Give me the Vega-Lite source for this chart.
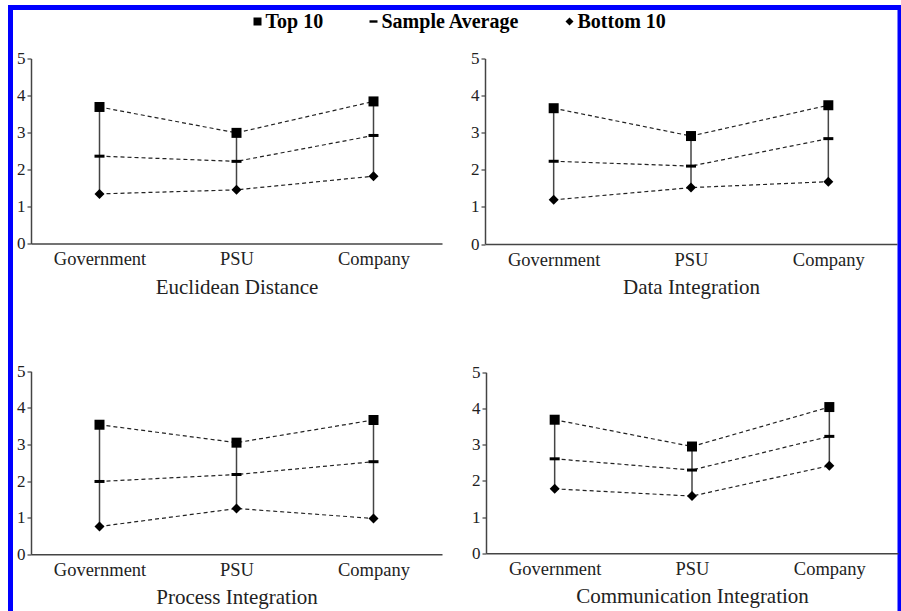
{
  "$schema": "https://vega.github.io/schema/vega-lite/v6.json",
  "width": 889.5,
  "height": 606,
  "autosize": {"type": "none"},
  "padding": {"left": 10.5, "top": 7.5, "right": 1, "bottom": 0},
  "background": "white",
  "data": {
    "values": [
      {"panel": "Euclidean Distance", "category": "Government", "series": "Top 10", "value": 3.69},
      {"panel": "Euclidean Distance", "category": "PSU", "series": "Top 10", "value": 2.99},
      {"panel": "Euclidean Distance", "category": "Company", "series": "Top 10", "value": 3.84},
      {"panel": "Euclidean Distance", "category": "Government", "series": "Sample Average", "value": 2.36},
      {"panel": "Euclidean Distance", "category": "PSU", "series": "Sample Average", "value": 2.22},
      {"panel": "Euclidean Distance", "category": "Company", "series": "Sample Average", "value": 2.92},
      {"panel": "Euclidean Distance", "category": "Government", "series": "Bottom 10", "value": 1.34},
      {"panel": "Euclidean Distance", "category": "PSU", "series": "Bottom 10", "value": 1.45},
      {"panel": "Euclidean Distance", "category": "Company", "series": "Bottom 10", "value": 1.82},
      {"panel": "Data Integration", "category": "Government", "series": "Top 10", "value": 3.66},
      {"panel": "Data Integration", "category": "PSU", "series": "Top 10", "value": 2.91},
      {"panel": "Data Integration", "category": "Company", "series": "Top 10", "value": 3.74},
      {"panel": "Data Integration", "category": "Government", "series": "Sample Average", "value": 2.23},
      {"panel": "Data Integration", "category": "PSU", "series": "Sample Average", "value": 2.10},
      {"panel": "Data Integration", "category": "Company", "series": "Sample Average", "value": 2.84},
      {"panel": "Data Integration", "category": "Government", "series": "Bottom 10", "value": 1.19},
      {"panel": "Data Integration", "category": "PSU", "series": "Bottom 10", "value": 1.52},
      {"panel": "Data Integration", "category": "Company", "series": "Bottom 10", "value": 1.68},
      {"panel": "Process Integration", "category": "Government", "series": "Top 10", "value": 3.54},
      {"panel": "Process Integration", "category": "PSU", "series": "Top 10", "value": 3.05},
      {"panel": "Process Integration", "category": "Company", "series": "Top 10", "value": 3.67},
      {"panel": "Process Integration", "category": "Government", "series": "Sample Average", "value": 1.99},
      {"panel": "Process Integration", "category": "PSU", "series": "Sample Average", "value": 2.18},
      {"panel": "Process Integration", "category": "Company", "series": "Sample Average", "value": 2.53},
      {"panel": "Process Integration", "category": "Government", "series": "Bottom 10", "value": 0.76},
      {"panel": "Process Integration", "category": "PSU", "series": "Bottom 10", "value": 1.25},
      {"panel": "Process Integration", "category": "Company", "series": "Bottom 10", "value": 0.98},
      {"panel": "Communication Integration", "category": "Government", "series": "Top 10", "value": 3.69},
      {"panel": "Communication Integration", "category": "PSU", "series": "Top 10", "value": 2.95},
      {"panel": "Communication Integration", "category": "Company", "series": "Top 10", "value": 4.04},
      {"panel": "Communication Integration", "category": "Government", "series": "Sample Average", "value": 2.61},
      {"panel": "Communication Integration", "category": "PSU", "series": "Sample Average", "value": 2.30},
      {"panel": "Communication Integration", "category": "Company", "series": "Sample Average", "value": 3.23},
      {"panel": "Communication Integration", "category": "Government", "series": "Bottom 10", "value": 1.78},
      {"panel": "Communication Integration", "category": "PSU", "series": "Bottom 10", "value": 1.58},
      {"panel": "Communication Integration", "category": "Company", "series": "Bottom 10", "value": 2.42}
    ]
  },
  "resolve": {
    "scale": {"x": "independent", "y": "independent"},
    "axis": {"x": "independent", "y": "independent"}
  },
  "layer": [
    {
      "transform": [{"filter": "datum.panel === 'Euclidean Distance'"}],
      "mark": {"type": "rule", "color": "#444", "strokeWidth": 1.5},
      "encoding": {
        "x": {"field": "category", "type": "nominal", "sort": ["Government", "PSU", "Company"], "scale": {"type": "point", "padding": 0.5, "range": [20.5, 431.5]}, "axis": {"title": "Euclidean Distance", "orient": "bottom", "offset": -370}},
        "y": {"aggregate": "min", "field": "value", "type": "quantitative", "scale": {"domain": [0, 5], "range": [236, 51]}, "axis": {"title": null, "orient": "left", "offset": -20.5, "values": [0, 1, 2, 3, 4, 5]}},
        "y2": {"aggregate": "max", "field": "value"}
      }
    },
    {
      "transform": [{"filter": "datum.panel === 'Euclidean Distance'"}],
      "mark": {"type": "line", "color": "#222", "strokeWidth": 1.2, "strokeDash": [4, 3]},
      "encoding": {
        "x": {"field": "category", "type": "nominal", "sort": ["Government", "PSU", "Company"], "scale": {"type": "point", "padding": 0.5, "range": [20.5, 431.5]}, "axis": null},
        "y": {"field": "value", "type": "quantitative", "scale": {"domain": [0, 5], "range": [236, 51]}, "axis": null},
        "detail": {"field": "series", "type": "nominal"}
      }
    },
    {
      "transform": [{"filter": "datum.panel === 'Euclidean Distance'"}],
      "mark": {"type": "point", "filled": true, "opacity": 1, "color": "#000", "size": 100},
      "encoding": {
        "x": {"field": "category", "type": "nominal", "sort": ["Government", "PSU", "Company"], "scale": {"type": "point", "padding": 0.5, "range": [20.5, 431.5]}, "axis": null},
        "y": {"field": "value", "type": "quantitative", "scale": {"domain": [0, 5], "range": [236, 51]}, "axis": null},
        "shape": {"field": "series", "type": "nominal", "scale": {"domain": ["Top 10", "Sample Average", "Bottom 10"], "range": ["square", "M-1,-0.3H1V0.3H-1Z", "diamond"]}, "legend": {"title": null, "orient": "none", "legendX": 237, "legendY": 4, "direction": "horizontal", "columnPadding": 40, "labelFont": "Liberation Serif", "labelFontSize": 20, "labelFontWeight": "bold", "labelColor": "#000", "symbolSize": 64, "symbolFillColor": "#000", "symbolStrokeWidth": 0, "labelOffset": -2, "padding": 0}}
      }
    },
    {
      "transform": [{"filter": "datum.panel === 'Data Integration'"}],
      "mark": {"type": "rule", "color": "#444", "strokeWidth": 1.5},
      "encoding": {
        "x": {"field": "category", "type": "nominal", "sort": ["Government", "PSU", "Company"], "scale": {"type": "point", "padding": 0.5, "range": [474.5, 886.5]}, "axis": {"title": "Data Integration", "orient": "bottom", "offset": -369.5}},
        "y": {"aggregate": "min", "field": "value", "type": "quantitative", "scale": {"domain": [0, 5], "range": [236.5, 51]}, "axis": {"title": null, "orient": "left", "offset": -474.5, "values": [0, 1, 2, 3, 4, 5]}},
        "y2": {"aggregate": "max", "field": "value"}
      }
    },
    {
      "transform": [{"filter": "datum.panel === 'Data Integration'"}],
      "mark": {"type": "line", "color": "#222", "strokeWidth": 1.2, "strokeDash": [4, 3]},
      "encoding": {
        "x": {"field": "category", "type": "nominal", "sort": ["Government", "PSU", "Company"], "scale": {"type": "point", "padding": 0.5, "range": [474.5, 886.5]}, "axis": null},
        "y": {"field": "value", "type": "quantitative", "scale": {"domain": [0, 5], "range": [236.5, 51]}, "axis": null},
        "detail": {"field": "series", "type": "nominal"}
      }
    },
    {
      "transform": [{"filter": "datum.panel === 'Data Integration'"}],
      "mark": {"type": "point", "filled": true, "opacity": 1, "color": "#000", "size": 100},
      "encoding": {
        "x": {"field": "category", "type": "nominal", "sort": ["Government", "PSU", "Company"], "scale": {"type": "point", "padding": 0.5, "range": [474.5, 886.5]}, "axis": null},
        "y": {"field": "value", "type": "quantitative", "scale": {"domain": [0, 5], "range": [236.5, 51]}, "axis": null},
        "shape": {"field": "series", "type": "nominal", "scale": {"domain": ["Top 10", "Sample Average", "Bottom 10"], "range": ["square", "M-1,-0.3H1V0.3H-1Z", "diamond"]}, "legend": {"title": null, "orient": "none", "legendX": 237, "legendY": 4, "direction": "horizontal", "columnPadding": 40, "labelFont": "Liberation Serif", "labelFontSize": 20, "labelFontWeight": "bold", "labelColor": "#000", "symbolSize": 64, "symbolFillColor": "#000", "symbolStrokeWidth": 0, "labelOffset": -2, "padding": 0}}
      }
    },
    {
      "transform": [{"filter": "datum.panel === 'Process Integration'"}],
      "mark": {"type": "rule", "color": "#444", "strokeWidth": 1.5},
      "encoding": {
        "x": {"field": "category", "type": "nominal", "sort": ["Government", "PSU", "Company"], "scale": {"type": "point", "padding": 0.5, "range": [20.5, 431.5]}, "axis": {"title": "Process Integration", "orient": "bottom", "offset": -59.2}},
        "y": {"aggregate": "min", "field": "value", "type": "quantitative", "scale": {"domain": [0, 5], "range": [546.8, 363.8]}, "axis": {"title": null, "orient": "left", "offset": -20.5, "values": [0, 1, 2, 3, 4, 5]}},
        "y2": {"aggregate": "max", "field": "value"}
      }
    },
    {
      "transform": [{"filter": "datum.panel === 'Process Integration'"}],
      "mark": {"type": "line", "color": "#222", "strokeWidth": 1.2, "strokeDash": [4, 3]},
      "encoding": {
        "x": {"field": "category", "type": "nominal", "sort": ["Government", "PSU", "Company"], "scale": {"type": "point", "padding": 0.5, "range": [20.5, 431.5]}, "axis": null},
        "y": {"field": "value", "type": "quantitative", "scale": {"domain": [0, 5], "range": [546.8, 363.8]}, "axis": null},
        "detail": {"field": "series", "type": "nominal"}
      }
    },
    {
      "transform": [{"filter": "datum.panel === 'Process Integration'"}],
      "mark": {"type": "point", "filled": true, "opacity": 1, "color": "#000", "size": 100},
      "encoding": {
        "x": {"field": "category", "type": "nominal", "sort": ["Government", "PSU", "Company"], "scale": {"type": "point", "padding": 0.5, "range": [20.5, 431.5]}, "axis": null},
        "y": {"field": "value", "type": "quantitative", "scale": {"domain": [0, 5], "range": [546.8, 363.8]}, "axis": null},
        "shape": {"field": "series", "type": "nominal", "scale": {"domain": ["Top 10", "Sample Average", "Bottom 10"], "range": ["square", "M-1,-0.3H1V0.3H-1Z", "diamond"]}, "legend": {"title": null, "orient": "none", "legendX": 237, "legendY": 4, "direction": "horizontal", "columnPadding": 40, "labelFont": "Liberation Serif", "labelFontSize": 20, "labelFontWeight": "bold", "labelColor": "#000", "symbolSize": 64, "symbolFillColor": "#000", "symbolStrokeWidth": 0, "labelOffset": -2, "padding": 0}}
      }
    },
    {
      "transform": [{"filter": "datum.panel === 'Communication Integration'"}],
      "mark": {"type": "rule", "color": "#444", "strokeWidth": 1.5},
      "encoding": {
        "x": {"field": "category", "type": "nominal", "sort": ["Government", "PSU", "Company"], "scale": {"type": "point", "padding": 0.5, "range": [475.5, 887.5]}, "axis": {"title": "Communication Integration", "orient": "bottom", "offset": -60.2}},
        "y": {"aggregate": "min", "field": "value", "type": "quantitative", "scale": {"domain": [0, 5], "range": [545.8, 364.8]}, "axis": {"title": null, "orient": "left", "offset": -475.5, "values": [0, 1, 2, 3, 4, 5]}},
        "y2": {"aggregate": "max", "field": "value"}
      }
    },
    {
      "transform": [{"filter": "datum.panel === 'Communication Integration'"}],
      "mark": {"type": "line", "color": "#222", "strokeWidth": 1.2, "strokeDash": [4, 3]},
      "encoding": {
        "x": {"field": "category", "type": "nominal", "sort": ["Government", "PSU", "Company"], "scale": {"type": "point", "padding": 0.5, "range": [475.5, 887.5]}, "axis": null},
        "y": {"field": "value", "type": "quantitative", "scale": {"domain": [0, 5], "range": [545.8, 364.8]}, "axis": null},
        "detail": {"field": "series", "type": "nominal"}
      }
    },
    {
      "transform": [{"filter": "datum.panel === 'Communication Integration'"}],
      "mark": {"type": "point", "filled": true, "opacity": 1, "color": "#000", "size": 100},
      "encoding": {
        "x": {"field": "category", "type": "nominal", "sort": ["Government", "PSU", "Company"], "scale": {"type": "point", "padding": 0.5, "range": [475.5, 887.5]}, "axis": null},
        "y": {"field": "value", "type": "quantitative", "scale": {"domain": [0, 5], "range": [545.8, 364.8]}, "axis": null},
        "shape": {"field": "series", "type": "nominal", "scale": {"domain": ["Top 10", "Sample Average", "Bottom 10"], "range": ["square", "M-1,-0.3H1V0.3H-1Z", "diamond"]}, "legend": {"title": null, "orient": "none", "legendX": 237, "legendY": 4, "direction": "horizontal", "columnPadding": 40, "labelFont": "Liberation Serif", "labelFontSize": 20, "labelFontWeight": "bold", "labelColor": "#000", "symbolSize": 64, "symbolFillColor": "#000", "symbolStrokeWidth": 0, "labelOffset": -2, "padding": 0}}
      }
    }
  ],
  "config": {
    "view": {"stroke": "#0000ff", "strokeWidth": 5, "fill": "white"},
    "font": "Liberation Serif",
    "axis": {
      "grid": false,
      "domainColor": "#444",
      "domainWidth": 1.5,
      "tickColor": "#444",
      "tickWidth": 1.2,
      "labelFont": "Liberation Serif",
      "labelColor": "#222",
      "titleFont": "Liberation Serif",
      "titleFontWeight": "normal",
      "titleColor": "#222",
      "titleFontSize": 21
    },
    "axisX": {"ticks": false, "labelFontSize": 18.5, "labelAngle": 0, "labelPadding": 6, "titlePadding": 8},
    "axisY": {"tickSize": 4, "labelFontSize": 17, "labelPadding": 2}
  }
}
